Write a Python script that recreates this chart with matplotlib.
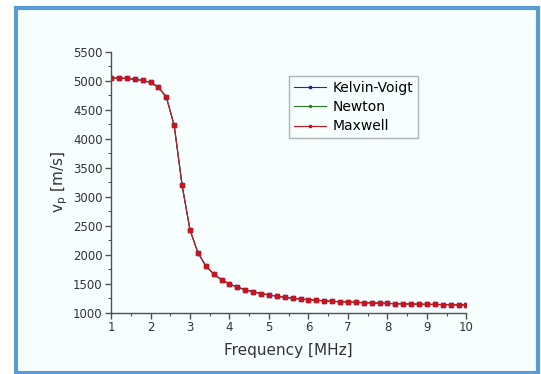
import numpy as np
import matplotlib.pyplot as plt
from matplotlib.patches import Rectangle
from matplotlib.ticker import MultipleLocator

# frequency [MHz] and phase velocity [m/s]
freq = [1.0, 1.2, 1.4, 1.6, 1.8, 2.0, 2.2, 2.4, 2.6, 2.8,
        3.0, 3.2, 3.4, 3.6, 3.8, 4.0, 4.2, 4.4, 4.6, 4.8,
        5.0, 5.2, 5.4, 5.6, 5.8, 6.0, 6.2, 6.4, 6.6, 6.8,
        7.0, 7.2, 7.4, 7.6, 7.8, 8.0, 8.2, 8.4, 8.6, 8.8,
        9.0, 9.2, 9.4, 9.6, 9.8, 10.0]
vp = [5045, 5045, 5040, 5025, 5005, 4970, 4890, 4720, 4230, 3200,
      2430, 2040, 1810, 1670, 1570, 1500, 1445, 1400, 1365, 1335,
      1310, 1290, 1270, 1255, 1240, 1230, 1220, 1210, 1200, 1195,
      1190, 1183, 1178, 1173, 1168, 1165, 1160, 1157, 1154, 1151,
      1149, 1147, 1145, 1143, 1141, 1140]

# the three models give the same curve
kelvin_voigt = vp
newton = vp
maxwell = vp

fig = plt.figure(figsize=(5.41, 3.74), dpi=100)
fig.patch.set_facecolor("white")

# framed light panel
frame = Rectangle((16 / 541, 1 - 373 / 374), 522 / 541, 365 / 374,
                  transform=fig.transFigure, facecolor="#f7fefe",
                  edgecolor="#5b9bd5", linewidth=3, zorder=-10)
fig.add_artist(frame)

ax = fig.add_axes([111 / 541, 1 - 313 / 374, 355.5 / 541, 261.3 / 374])
ax.set_facecolor("none")
ax.set_zorder(1)

ax.plot(freq, kelvin_voigt, color="#2020d0", lw=0.8, marker="s", ms=2.4, label="Kelvin-Voigt")
ax.plot(freq, newton, color="#2a7a2a", lw=0.8, marker="o", ms=2.4, label="Newton")
ax.plot(freq, maxwell, color="#c8141e", lw=0.8, marker="s", ms=2.8, label="Maxwell")

ax.set_xlim(1, 10)
ax.set_ylim(1000, 5500)
ax.xaxis.set_major_locator(MultipleLocator(1))
ax.xaxis.set_minor_locator(MultipleLocator(0.5))
ax.yaxis.set_major_locator(MultipleLocator(500))
ax.yaxis.set_minor_locator(MultipleLocator(250))

for side in ["top", "right"]:
    ax.spines[side].set_visible(False)
for side in ["left", "bottom"]:
    ax.spines[side].set_color("#505050")
    ax.spines[side].set_linewidth(1.0)

ax.tick_params(which="major", direction="out", length=4, width=1, color="#505050",
               labelsize=8.5, labelcolor="#333333", pad=2)
ax.tick_params(which="minor", direction="out", length=2.5, width=0.8, color="#505050")

ax.set_xlabel("Frequency [MHz]", fontsize=11, color="#333333", labelpad=6)
ax.set_ylabel("v$_\\mathregular{p}$ [m/s]", fontsize=11, color="#333333", labelpad=2)

leg = ax.legend(loc="upper left", bbox_to_anchor=(0.50, 0.907), fontsize=10,
                frameon=True, fancybox=False, edgecolor="#a0a0a0",
                handlelength=2.3, handletextpad=0.5, borderpad=0.35,
                labelspacing=0.38, markerscale=0.6, borderaxespad=0)
leg.get_frame().set_linewidth(1.0)
leg.get_frame().set_facecolor("none")

fig.savefig("out.png", dpi=100)
